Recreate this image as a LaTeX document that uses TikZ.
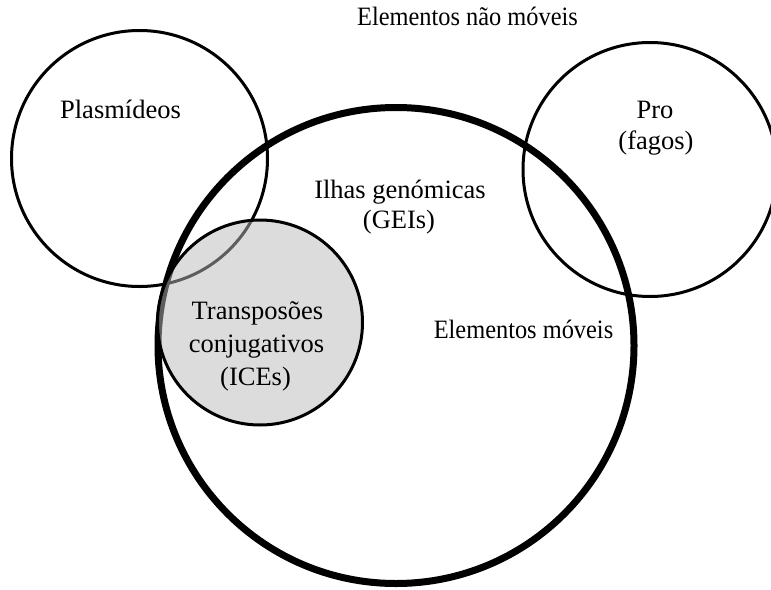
\documentclass[tikz,border=0pt]{standalone}
\usepackage{fontspec}
\setmainfont{Liberation Serif}
\newcommand{\narrowtext}[1]{\scalebox{0.92}[1]{#1}}
\begin{document}
\begin{tikzpicture}[x=1pt,y=-1pt,
  lbl/.style={anchor=base,inner sep=0pt,font=\fontsize{26.5}{32}\selectfont},
  thin/.style={draw=black,line width=3pt},
  thick/.style={draw=black,line width=7pt}]
\useasboundingbox (0,0) rectangle (771,589);
\fill[white] (0,0) rectangle (771,589);
\begin{scope}
\clip (0,0) rectangle (771,589);
\draw[thick] (396,345.5) circle[radius=238];
\draw[thin] (139.5,158.5) circle[radius=128];
\draw[thin] (650,169.5) circle[radius=127];
\fill[black!27,fill opacity=0.5] (260,322.5) circle[radius=102.5];
\draw[thin] (260,322.5) circle[radius=102.5];
\end{scope}
\node[lbl] (nm) at (467.5,25) {\narrowtext{Elementos não móveis}};
\node[lbl] (pl) at (120.5,118) {Plasmídeos};
\node[lbl] (pro1) at (655,118) {Pro};
\node[lbl] (pro2) at (656,149) {(fagos)};
\node[lbl] (gei1) at (400,198) {Ilhas genómicas};
\node[lbl] (gei2) at (399,228) {(GEIs)};
\node[lbl] (ice1) at (257.5,319) {Transposões};
\node[lbl] (ice2) at (256.5,352) {conjugativos};
\node[lbl] (ice3) at (255.5,385) {(ICEs)};
\node[lbl] (mov) at (523.5,338) {\narrowtext{Elementos móveis}};
\end{tikzpicture}
\end{document}
